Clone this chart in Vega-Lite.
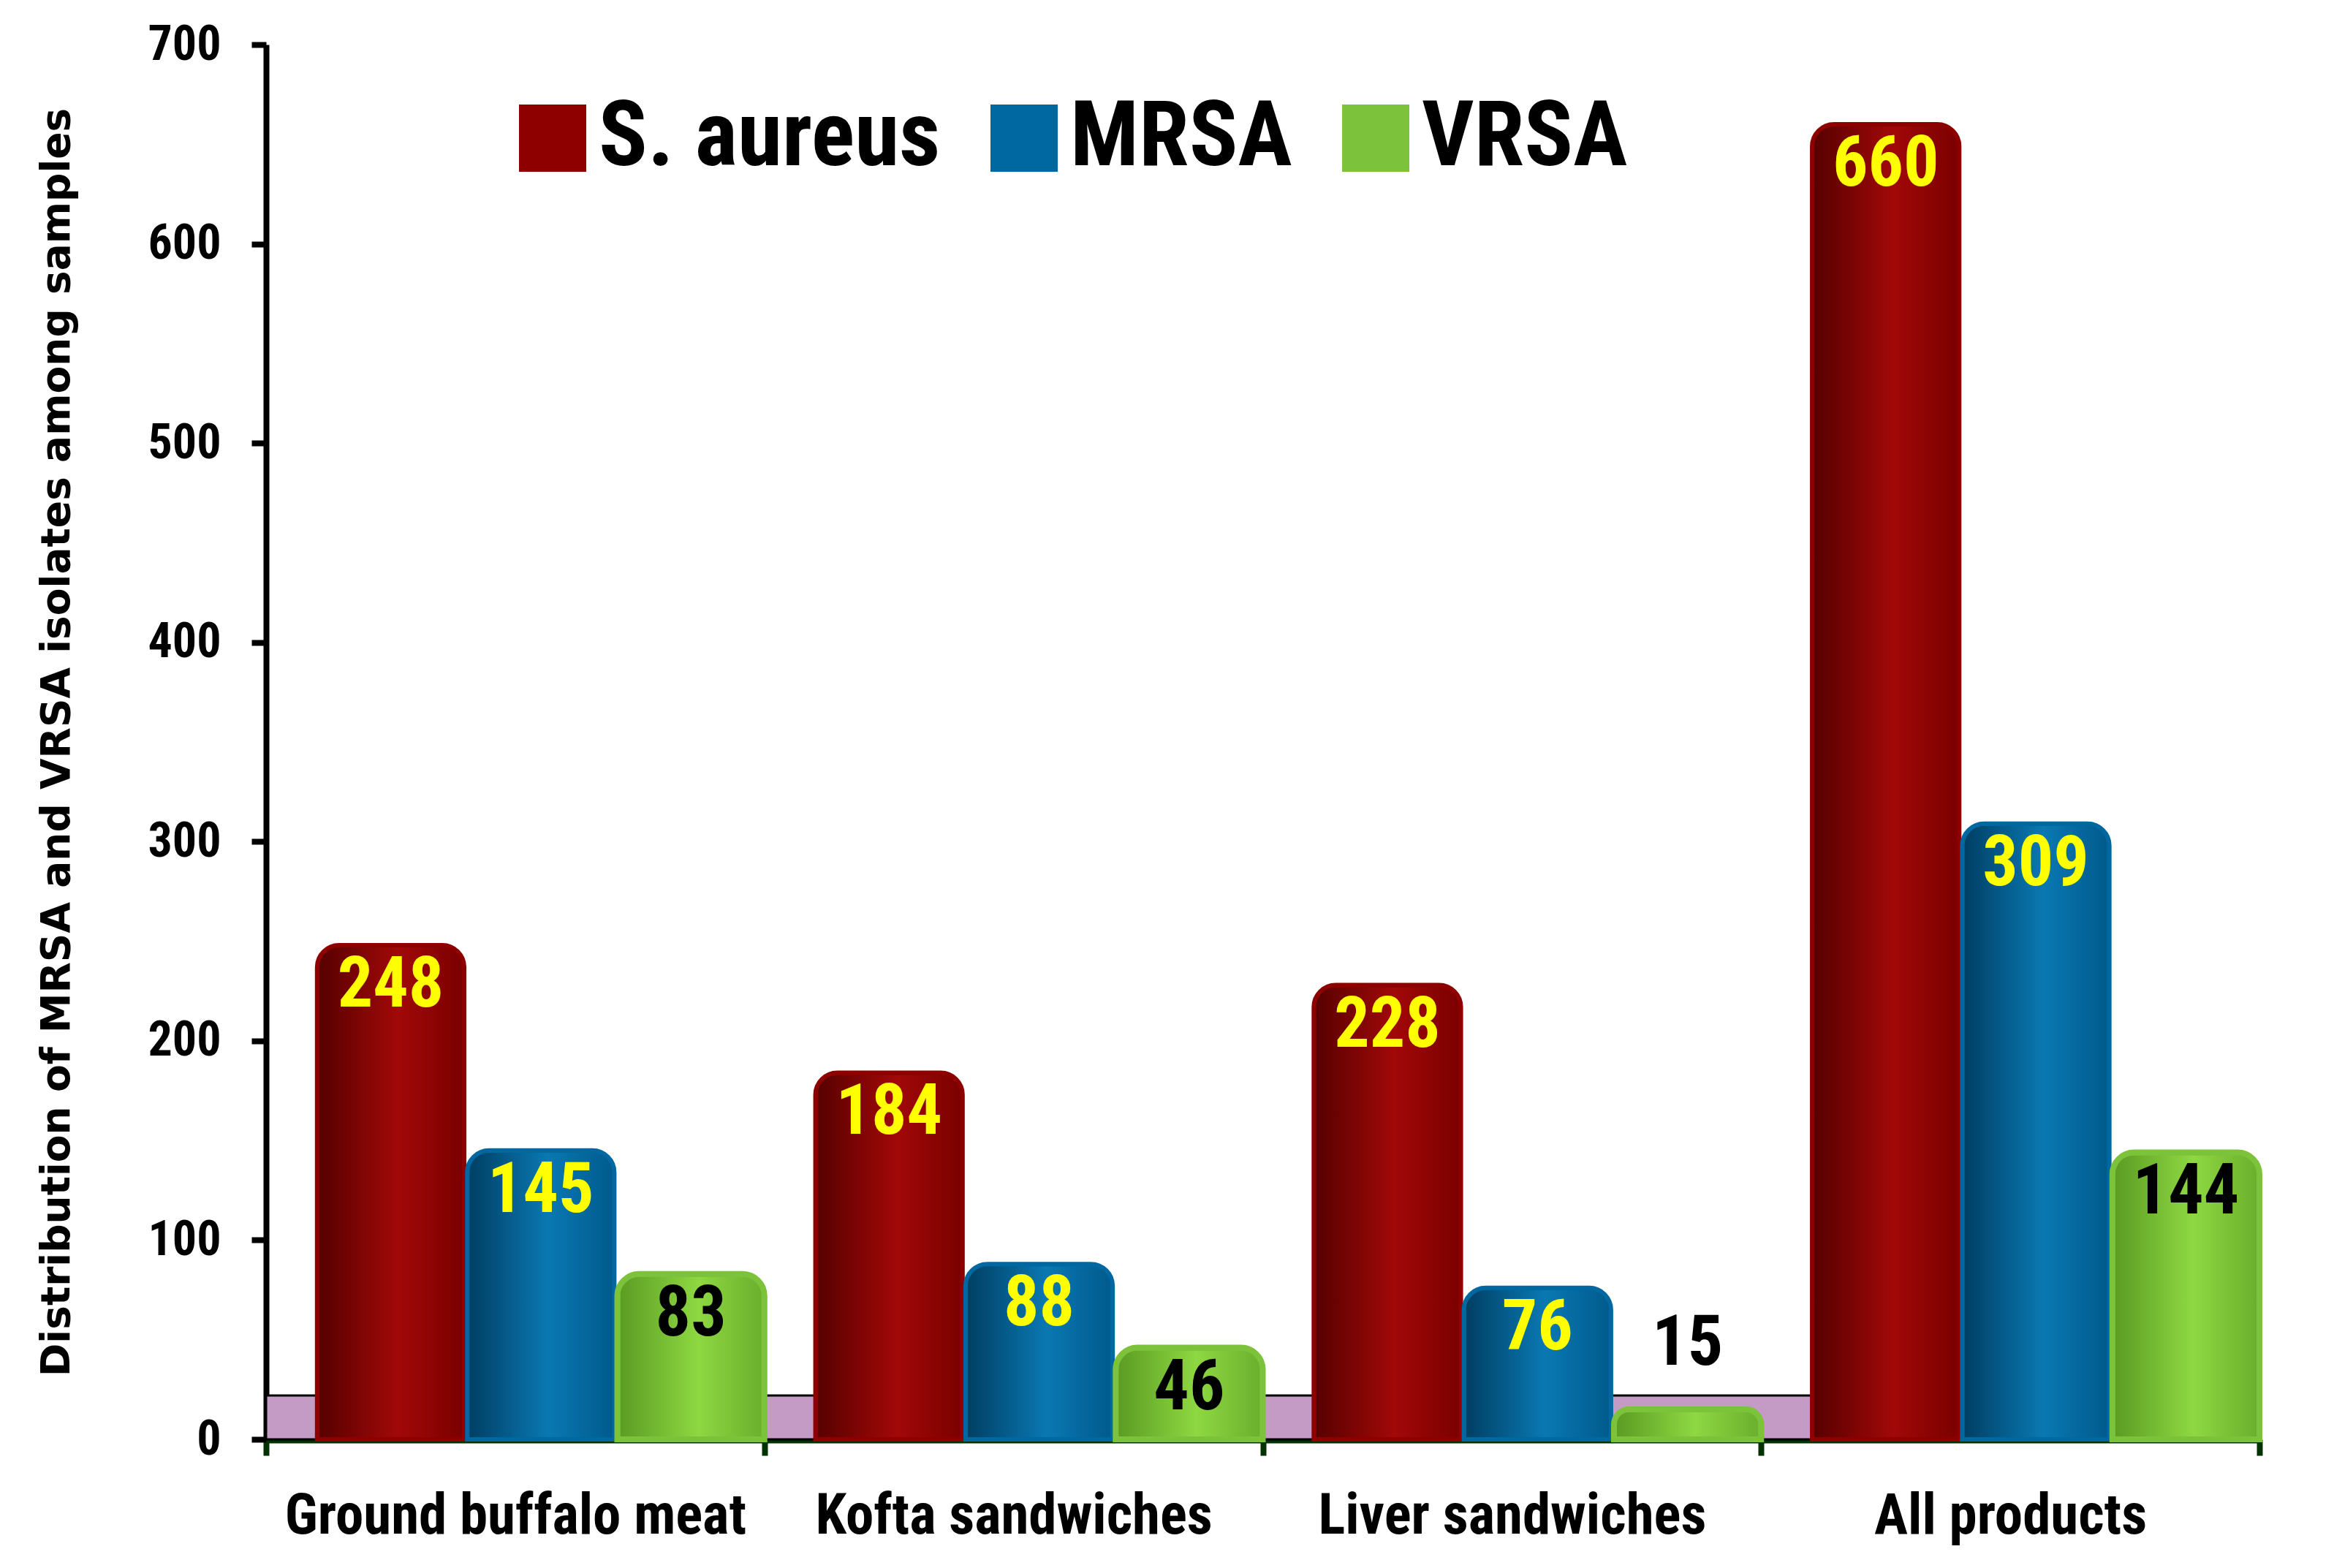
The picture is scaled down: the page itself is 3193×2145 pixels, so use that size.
{
  "$schema": "https://vega.github.io/schema/vega-lite/v6.json",
  "autosize": {"type": "none"},
  "width": 2727,
  "height": 1908,
  "padding": {"left": 364, "top": 61, "right": 102, "bottom": 176},
  "background": "white",
  "config": {
    "view": {"stroke": null},
    "font": "'Roboto Condensed', 'DejaVu Sans Condensed', sans-serif"
  },
  "data": {
    "values": [
      {"category": "Ground buffalo meat", "series": "S. aureus", "value": 248},
      {"category": "Ground buffalo meat", "series": "MRSA", "value": 145},
      {"category": "Ground buffalo meat", "series": "VRSA", "value": 83},
      {"category": "Kofta sandwiches", "series": "S. aureus", "value": 184},
      {"category": "Kofta sandwiches", "series": "MRSA", "value": 88},
      {"category": "Kofta sandwiches", "series": "VRSA", "value": 46},
      {"category": "Liver sandwiches", "series": "S. aureus", "value": 228},
      {"category": "Liver sandwiches", "series": "MRSA", "value": 76},
      {"category": "Liver sandwiches", "series": "VRSA", "value": 15},
      {"category": "All products", "series": "S. aureus", "value": 660},
      {"category": "All products", "series": "MRSA", "value": 309},
      {"category": "All products", "series": "VRSA", "value": 144}
    ]
  },
  "encoding": {
    "x": {
      "field": "category",
      "type": "nominal",
      "sort": ["Ground buffalo meat", "Kofta sandwiches", "Liver sandwiches", "All products"],
      "scale": {"paddingInner": 0, "paddingOuter": 0},
      "axis": {
        "title": null,
        "labelAngle": 0,
        "labelFont": "'Roboto Condensed', 'DejaVu Sans Condensed', sans-serif",
        "labelFontWeight": "bold",
        "labelFontSize": 77,
        "labelColor": "black",
        "labelLimit": 0,
        "labelPadding": 45,
        "domainColor": "#003300",
        "domainWidth": 10,
        "tickColor": "#003300",
        "tickWidth": 8,
        "tickSize": 22,
        "tickBand": "extent"
      }
    },
    "y": {
      "type": "quantitative",
      "scale": {"domain": [0, 700]},
      "axis": {
        "title": "Distribution of MRSA and VRSA isolates among samples",
        "titleFont": "DejaVu Sans",
        "titleFontWeight": "bold",
        "titleFontSize": 55,
        "titleColor": "black",
        "titlePadding": 95,
        "values": [0, 100, 200, 300, 400, 500, 600, 700],
        "grid": false,
        "labelFont": "'Roboto Condensed', 'DejaVu Sans Condensed', sans-serif",
        "labelFontWeight": "bold",
        "labelFontSize": 66,
        "labelColor": "black",
        "labelPadding": 42,
        "domainColor": "black",
        "domainWidth": 8,
        "tickColor": "black",
        "tickWidth": 8,
        "tickSize": 20
      }
    },
    "xOffset": {
      "field": "series",
      "type": "nominal",
      "scale": {"domain": ["S. aureus", "MRSA", "VRSA"], "paddingInner": 0.02, "paddingOuter": 0.17, "align": 1}
    }
  },
  "layer": [
    {
      "data": {"values": [{"floor_top": 22, "floor_bottom": 0}]},
      "mark": {"type": "rect", "color": "#C39BC5", "stroke": "black", "strokeWidth": 3},
      "encoding": {
        "x": null,
        "xOffset": null,
        "y": {"field": "floor_bottom", "type": "quantitative"},
        "y2": {"field": "floor_top"}
      }
    },
    {
      "encoding": {
        "y": {"field": "value", "type": "quantitative"},
        "stroke": {
          "field": "series",
          "type": "nominal",
          "scale": {"domain": ["S. aureus", "MRSA", "VRSA"], "range": ["#8E0000", "#0068A0", "#7CC23A"]},
          "legend": {
            "title": null,
            "orient": "none",
            "direction": "horizontal",
            "legendX": 330,
            "legendY": 66,
            "symbolType": "square",
            "symbolSize": 1600,
            "symbolStrokeWidth": 52,
            "symbolFillColor": "white",
            "labelFont": "'Roboto Condensed', 'DejaVu Sans Condensed', sans-serif",
            "labelFontWeight": "bold",
            "labelFontSize": 124,
            "labelColor": "black",
            "labelOffset": 1,
            "labelLimit": 0,
            "columnPadding": -10
          }
        }
      },
      "layer": [
        {
          "transform": [{"filter": "datum.series === 'S. aureus'"}],
          "mark": {"type": "bar", "cornerRadiusTopLeft": 30, "cornerRadiusTopRight": 30, "strokeWidth": 6,
            "fill": {"gradient": "linear", "x1": 0, "y1": 0, "x2": 1, "y2": 0, "stops": [{"offset": 0, "color": "#560000"}, {"offset": 0.55, "color": "#A20808"}, {"offset": 1, "color": "#7A0000"}]}}
        },
        {
          "transform": [{"filter": "datum.series === 'MRSA'"}],
          "mark": {"type": "bar", "cornerRadiusTopLeft": 30, "cornerRadiusTopRight": 30, "strokeWidth": 6,
            "fill": {"gradient": "linear", "x1": 0, "y1": 0, "x2": 1, "y2": 0, "stops": [{"offset": 0, "color": "#003E62"}, {"offset": 0.55, "color": "#0A78B2"}, {"offset": 1, "color": "#005A8C"}]}}
        },
        {
          "transform": [{"filter": "datum.series === 'VRSA'"}],
          "mark": {"type": "bar", "cornerRadiusTopLeft": 30, "cornerRadiusTopRight": 30, "strokeWidth": 8,
            "fill": {"gradient": "linear", "x1": 0, "y1": 0, "x2": 1, "y2": 0, "stops": [{"offset": 0, "color": "#5A9A22"}, {"offset": 0.55, "color": "#8ED842"}, {"offset": 1, "color": "#6AAE2C"}]}}
        }
      ]
    },
    {
      "transform": [{"filter": "datum.value >= 30"}],
      "mark": {"type": "text", "font": "'Roboto Condensed', 'DejaVu Sans Condensed', sans-serif", "fontWeight": "bold", "fontSize": 96, "baseline": "middle", "dy": 55},
      "encoding": {
        "y": {"field": "value", "type": "quantitative"},
        "text": {"field": "value", "type": "quantitative"},
        "color": {"condition": {"test": "datum.series === 'VRSA'", "value": "black"}, "value": "#FFFF00"}
      }
    },
    {
      "transform": [{"filter": "datum.value < 30"}],
      "mark": {"type": "text", "font": "'Roboto Condensed', 'DejaVu Sans Condensed', sans-serif", "fontWeight": "bold", "fontSize": 96, "baseline": "middle", "dy": -90, "color": "black"},
      "encoding": {
        "y": {"field": "value", "type": "quantitative"},
        "text": {"field": "value", "type": "quantitative"}
      }
    }
  ]
}
